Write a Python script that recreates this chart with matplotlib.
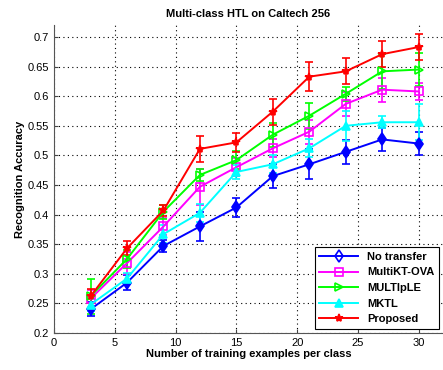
import matplotlib
matplotlib.use('Agg')
import matplotlib.pyplot as plt
from matplotlib.lines import Line2D

plt.rcParams['font.family'] = ['Liberation Sans', 'DejaVu Sans']

# 数据
n_train = [3, 6, 9, 12, 15, 18, 21, 24, 27, 30]

no_transfer = [0.240, 0.285, 0.347, 0.380, 0.412, 0.465, 0.485, 0.506, 0.527, 0.520]
no_transfer_err = [0.012, 0.013, 0.010, 0.025, 0.016, 0.020, 0.025, 0.020, 0.020, 0.020]

multikt = [0.258, 0.318, 0.380, 0.447, 0.480, 0.512, 0.540, 0.587, 0.611, 0.608]
multikt_err = [0.015, 0.018, 0.015, 0.030, 0.015, 0.015, 0.020, 0.020, 0.020, 0.015]

multiple = [0.262, 0.325, 0.405, 0.467, 0.492, 0.535, 0.567, 0.604, 0.642, 0.645]
multiple_err = [0.030, 0.015, 0.012, 0.010, 0.015, 0.020, 0.022, 0.012, 0.030, 0.028]

mktl = [0.248, 0.292, 0.367, 0.403, 0.472, 0.485, 0.512, 0.550, 0.556, 0.556]
mktl_err = [0.010, 0.010, 0.015, 0.015, 0.012, 0.015, 0.015, 0.025, 0.010, 0.030]

proposed = [0.262, 0.343, 0.407, 0.511, 0.522, 0.574, 0.633, 0.642, 0.671, 0.683]
proposed_err = [0.012, 0.012, 0.010, 0.022, 0.016, 0.022, 0.025, 0.022, 0.022, 0.022]

fig = plt.figure(figsize=(4.43, 3.70), dpi=100)
ax = fig.add_axes([0.122, 0.1, 0.878, 0.832])

series = [
    (no_transfer, no_transfer_err, 'No transfer', '#0000ff', 'd', True),
    (multikt, multikt_err, 'MultiKT-OVA', '#ff00ff', 's', False),
    (multiple, multiple_err, 'MULTIpLE', '#00ff00', '>', False),
    (mktl, mktl_err, 'MKTL', '#00ffff', '^', True),
    (proposed, proposed_err, 'Proposed', '#ff0000', '*', True),
]
handles = []
for y, e, lab, c, m, filled in series:
    fc = c if filled else 'none'
    ax.errorbar(n_train, y, yerr=e, color=c, marker=m, markersize=6,
                markerfacecolor=fc, markeredgecolor=c, markeredgewidth=1.2,
                linewidth=1.4, elinewidth=1.2, capsize=3, capthick=1.2)
    handles.append(Line2D([], [], color=c, marker=m, markersize=6,
                          markerfacecolor='none' if m == 'd' else fc,
                          markeredgecolor=c, markeredgewidth=1.2,
                          linewidth=1.4, label=lab))

ax.set_xlim(0, 32)
ax.set_ylim(0.2, 0.72)
ax.set_xticks([0, 5, 10, 15, 20, 25, 30])
ax.set_yticks([0.2, 0.25, 0.3, 0.35, 0.4, 0.45, 0.5, 0.55, 0.6, 0.65, 0.7])
ax.set_yticklabels(['0.2', '0.25', '0.3', '0.35', '0.4', '0.45', '0.5', '0.55', '0.6', '0.65', '0.7'])
ax.tick_params(labelsize=8, direction='in', length=3, color='#444444')
ax.grid(True, linestyle=(0, (1, 3)), color='black', linewidth=0.8)
ax.spines['top'].set_visible(False)
ax.spines['right'].set_visible(False)
for s in ['left', 'bottom']:
    ax.spines[s].set_color('#555555')

ax.set_title('Multi-class HTL on Caltech 256', fontsize=8, fontweight='bold')
ax.set_xlabel('Number of training examples per class', fontsize=8, fontweight='bold', labelpad=1)
ax.set_ylabel('Recognition Accuracy', fontsize=8, fontweight='bold', labelpad=2)

leg = ax.legend(handles=handles, loc='lower right', fancybox=False, framealpha=1,
                edgecolor='black', borderaxespad=0.4, handlelength=3.5,
                prop={'weight': 'bold', 'size': 8})
leg.get_frame().set_linewidth(0.8)

plt.savefig('out.png', dpi=100)
